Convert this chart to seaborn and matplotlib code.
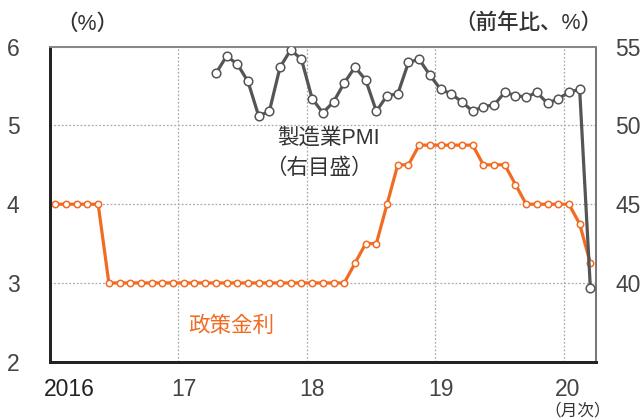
import matplotlib
matplotlib.use("Agg")
import matplotlib.pyplot as plt
import pandas as pd
import seaborn as sns

# Monthly observations, Jan 2016 - Mar 2020
months = list(pd.period_range("2016-01", "2020-03", freq="M").astype(str))

# Policy rate (%), left axis
policy_rate = [4.0, 4.0, 4.0, 4.0, 4.0,
               3.0, 3.0, 3.0, 3.0, 3.0, 3.0, 3.0,
               3.0, 3.0, 3.0, 3.0, 3.0, 3.0, 3.0, 3.0, 3.0, 3.0, 3.0, 3.0,
               3.0, 3.0, 3.0, 3.0, 3.25, 3.5, 3.5, 4.0, 4.5, 4.5, 4.75, 4.75,
               4.75, 4.75, 4.75, 4.75, 4.5, 4.5, 4.5, 4.25, 4.0, 4.0, 4.0, 4.0,
               4.0, 3.75, 3.25]

# Manufacturing PMI, right axis (Apr 2017 - Mar 2020)
pmi_start = "2017-04"
pmi_values = [53.3, 54.4, 53.9, 52.8, 50.6, 50.9, 53.7, 54.8, 54.2,
              51.7, 50.8, 51.5, 52.7, 53.7, 52.9, 50.9, 51.9, 52.0, 54.0, 54.2, 53.2,
              52.3, 52.0, 51.5, 50.9, 51.2, 51.3, 52.1, 51.9, 51.8, 52.1, 51.4, 51.7,
              52.1, 52.3, 39.7]

year_labels = ["2016", "17", "18", "19", "20"]

ORANGE = "#F26B23"
GREY = "#555555"
TEXT = "#333333"

sns.set_style("white")
plt.rcParams["font.family"] = ["Liberation Sans", "Noto Sans CJK JP", "DejaVu Sans"]

# month positions: category centres at i + 0.5
rate_df = pd.DataFrame({"pos": [i + 0.5 for i in range(len(months))],
                        "rate": policy_rate})
p0 = months.index(pmi_start)
pmi_df = pd.DataFrame({"pos": [p0 + i + 0.5 for i in range(len(pmi_values))],
                       "pmi": pmi_values})

W, H = 642, 419
fig = plt.figure(figsize=(W / 100, H / 100), dpi=100)
ax = fig.add_axes([50 / W, 1 - 361.7 / H, (595.7 - 50) / W, (361.7 - 46.7) / H])
ax2 = ax.twinx()

sns.lineplot(data=rate_df, x="pos", y="rate", ax=ax, color=ORANGE, linewidth=2.3,
             marker="o", markersize=4.6, markerfacecolor="white",
             markeredgecolor=ORANGE, markeredgewidth=1.1, zorder=3)
sns.lineplot(data=pmi_df, x="pos", y="pmi", ax=ax2, color=GREY, linewidth=2.3,
             marker="o", markersize=6.2, markerfacecolor="white",
             markeredgecolor=GREY, markeredgewidth=1.1, zorder=3)

ax.set_xlim(0, len(months))
ax.set_ylim(2, 6)
ax2.set_ylim(35, 55)
ax.set_yticks([2, 3, 4, 5, 6])
ax2.set_yticks([40, 45, 50, 55])

# year boundaries as vertical gridlines, labels near January
ax.set_xticks([12, 24, 36, 48], minor=True)
ax.set_xticks([1.8, 12.5, 24.5, 36.5, 48.4])
ax.set_xticklabels(year_labels)
ax.grid(False)
ax.grid(which="minor", axis="x", color="#aaaaaa", linestyle=(0, (1.5, 1.5)), linewidth=0.9)
ax.grid(which="major", axis="y", color="#aaaaaa", linestyle=(0, (1.5, 1.5)), linewidth=0.9)
ax2.grid(False)

for a in (ax, ax2):
    a.set_xlabel("")
    a.set_ylabel("")
    a.tick_params(which="both", length=0)

ax.tick_params(axis="y", pad=22, labelsize=16.5, labelcolor="#444444")
ax.tick_params(axis="x", pad=12, labelsize=16.5, labelcolor="#444444")
ax.get_xticklabels()[0].set_color("#222222")
ax2.tick_params(axis="y", pad=14, labelsize=16.5, labelcolor="#444444")

for a in (ax, ax2):
    a.spines["left"].set_color("#222222")
    a.spines["left"].set_linewidth(2.0)
    a.spines["bottom"].set_color("#222222")
    a.spines["bottom"].set_linewidth(2.0)
    a.spines["top"].set_color("#888888")
    a.spines["top"].set_linewidth(1.3)
    a.spines["right"].set_color("#777777")
    a.spines["right"].set_linewidth(1.3)


def px_text(x, y, s, **kw):
    fig.text(x / W, 1 - y / H, s, ha="center", va="center", **kw)


px_text(87, 24, "（%）", fontsize=15.5, color=TEXT, fontweight="medium")
px_text(528, 23, "（前年比、%）", fontsize=15.5, color=TEXT, fontweight="medium")
px_text(328, 138, "製造業PMI", fontsize=15.5, color=TEXT)
px_text(319, 168, "（右目盛）", fontsize=15.5, color=TEXT)
px_text(231, 326, "政策金利", fontsize=15.5, color=ORANGE)
px_text(578, 410.5, "（月次）", fontsize=12, color=TEXT)

fig.savefig("out.png", dpi=100)
